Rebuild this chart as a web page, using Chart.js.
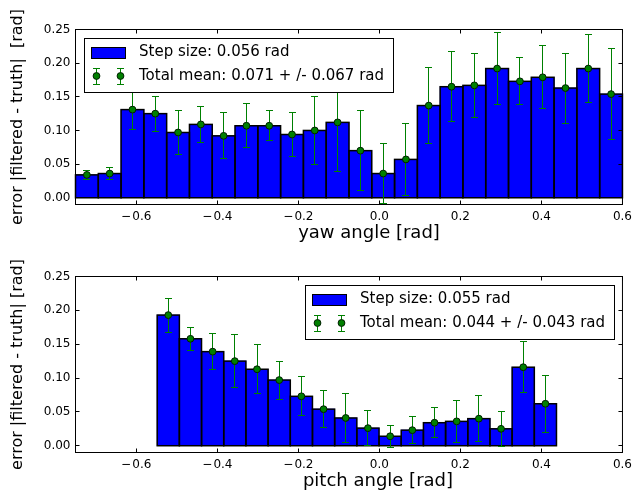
<!DOCTYPE html>
<html>
<head>
<meta charset="utf-8">
<script src="https://cdn.jsdelivr.net/npm/chart.js@4.4.1/dist/chart.umd.min.js"></script>
<style>
  html, body { margin: 0; padding: 0; background: #fff; }
  #wrap { position: relative; width: 637px; height: 496px; }
  .panel { position: absolute; left: 0; width: 637px; height: 248px; }
</style>
</head>
<body>
<div id="wrap">
  <div class="panel" style="top:0"><canvas id="yawChart" width="637" height="248"></canvas></div>
  <div class="panel" style="top:248px"><canvas id="pitchChart" width="637" height="248"></canvas></div>
</div>
<script>
const xTicks = [-0.6, -0.4, -0.2, 0.0, 0.2, 0.4, 0.6];
const yTicks = [0.00, 0.05, 0.10, 0.15, 0.20, 0.25];

// yaw histogram (bin centres, mean error, std)
const yawBins = [-0.7219, -0.6656, -0.6094, -0.5531, -0.4969, -0.4406, -0.3844, -0.3281,
  -0.2719, -0.2156, -0.1594, -0.1031, -0.0469, 0.0094, 0.0656, 0.1219,
  0.1781, 0.2344, 0.2906, 0.3469, 0.4031, 0.4594, 0.5156, 0.5719];
const yawMean = [0.034, 0.036, 0.131, 0.125, 0.097, 0.109, 0.092, 0.107,
  0.107, 0.094, 0.100, 0.112, 0.070, 0.036, 0.057, 0.137,
  0.165, 0.167, 0.192, 0.173, 0.179, 0.163, 0.192, 0.154];
const yawStd = [0.0065, 0.0085, 0.030, 0.026, 0.032, 0.027, 0.034, 0.033,
  0.022, 0.032, 0.050, 0.073, 0.059, 0.044, 0.053, 0.057,
  0.052, 0.047, 0.054, 0.035, 0.047, 0.052, 0.050, 0.068];
const yawLegend = ['Step size: 0.056 rad', 'Total mean: 0.071 + /- 0.067 rad'];

// pitch histogram
const pitchBins = [-0.5210, -0.4663, -0.4115, -0.3568, -0.3020, -0.2472, -0.1925, -0.1377,
  -0.0830, -0.0282, 0.0266, 0.0813, 0.1361, 0.1908, 0.2456, 0.3003, 0.3551, 0.4098];
const pitchMean = [0.193, 0.158, 0.139, 0.125, 0.113, 0.097, 0.073, 0.054,
  0.041, 0.026, 0.014, 0.023, 0.034, 0.036, 0.040, 0.025, 0.116, 0.062];
const pitchStd = [0.025, 0.017, 0.027, 0.039, 0.036, 0.028, 0.029, 0.027,
  0.036, 0.026, 0.016, 0.020, 0.022, 0.031, 0.034, 0.026, 0.038, 0.042];
const pitchLegend = ['Step size: 0.055 rad', 'Total mean: 0.044 + /- 0.043 rad'];

const FONT = "'DejaVu Sans', sans-serif";
Chart.defaults.font.family = FONT;
Chart.defaults.color = '#000';

const fmtX = v => (v < 0 ? '\u2212\u200A' + Math.abs(v).toFixed(1) : v.toFixed(1));
const snap = v => Math.round(v - 0.5) + 0.5;

// bar outlines, error bars, frame, inward ticks, legend box and x label
const decor = {
  id: 'decor',
  afterDatasetDraw(chart, args) {
    const ds = chart.data.datasets[args.index];
    if (!ds.outline) return;
    const ctx = chart.ctx;
    ctx.save();
    ctx.strokeStyle = '#000';
    ctx.lineWidth = 1.5;
    args.meta.data.forEach(el => {
      ctx.strokeRect(el.x - el.width / 2, el.y, el.width, el.base - el.y);
    });
    ctx.restore();
  },
  beforeDatasetDraw(chart, args) {
    const ds = chart.data.datasets[args.index];
    if (!ds.errors) return;
    const {ctx, chartArea: a, scales: {x, y}} = chart;
    ctx.save();
    ctx.beginPath();
    ctx.rect(a.left, a.top, a.right - a.left, a.bottom - a.top);
    ctx.clip();
    ctx.strokeStyle = '#008000';
    ctx.lineWidth = 1;
    ds.data.forEach((p, i) => {
      const px = snap(x.getPixelForValue(p.x));
      const hi = y.getPixelForValue(p.y + ds.errors[i]);
      const lo = y.getPixelForValue(p.y - ds.errors[i]);
      ctx.beginPath();
      ctx.moveTo(px, hi); ctx.lineTo(px, lo);
      ctx.moveTo(px - 3.5, snap(hi)); ctx.lineTo(px + 3.5, snap(hi));
      ctx.moveTo(px - 3.5, snap(lo)); ctx.lineTo(px + 3.5, snap(lo));
      ctx.stroke();
    });
    ctx.restore();
  },
  afterDraw(chart, args, opts) {
    const {ctx, chartArea: a, scales: {x, y}} = chart;
    ctx.save();
    // frame
    ctx.strokeStyle = '#000';
    ctx.lineWidth = 1;
    ctx.strokeRect(a.left, a.top, a.right - a.left, a.bottom - a.top);
    // ticks pointing inwards on all four sides
    ctx.beginPath();
    xTicks.forEach(v => {
      const px = Math.floor(x.getPixelForValue(v)) + 0.5;
      ctx.moveTo(px, a.bottom); ctx.lineTo(px, a.bottom - 4);
      ctx.moveTo(px, a.top); ctx.lineTo(px, a.top + 4);
    });
    yTicks.forEach(v => {
      const py = Math.floor(y.getPixelForValue(v)) + 0.5;
      ctx.moveTo(a.left, py); ctx.lineTo(a.left + 4, py);
      ctx.moveTo(a.right, py); ctx.lineTo(a.right - 4, py);
    });
    ctx.stroke();

    // x label
    ctx.fillStyle = '#000';
    ctx.font = '18px ' + FONT;
    ctx.textAlign = 'center';
    ctx.textBaseline = 'middle';
    ctx.fillText(opts.xTitle, (a.left + a.right) / 2 + opts.xShift, a.bottom + 29);

    // legend
    ctx.font = '15px ' + FONT;
    ctx.textAlign = 'left';
    const tw = Math.max(...opts.legend.map(t => ctx.measureText(t).width));
    const bw = Math.round(tw + 64), bh = 54;
    const bx = opts.side === 'left' ? Math.round(a.left + 8) : Math.round(a.right - 8 - bw);
    const by = Math.round(a.top + 8);
    ctx.fillStyle = '#fff';
    ctx.fillRect(bx, by, bw, bh);
    ctx.strokeStyle = '#000';
    ctx.strokeRect(bx + 0.5, by + 0.5, bw, bh);
    ctx.fillStyle = '#0000ff';
    ctx.fillRect(bx + 7.5, by + 9.5, 34, 11);
    ctx.strokeRect(bx + 7.5, by + 9.5, 34, 11);
    [bx + 12.5, bx + 36.5].forEach(mx => {
      const my = by + 38;
      ctx.strokeStyle = '#008000';
      ctx.beginPath();
      ctx.moveTo(mx, my - 8); ctx.lineTo(mx, my + 8);
      ctx.moveTo(mx - 3.5, my - 7.5); ctx.lineTo(mx + 3.5, my - 7.5);
      ctx.moveTo(mx - 3.5, my + 8.5); ctx.lineTo(mx + 3.5, my + 8.5);
      ctx.stroke();
      ctx.beginPath();
      ctx.arc(mx, my, 3.4, 0, Math.PI * 2);
      ctx.fillStyle = '#008000';
      ctx.fill();
      ctx.strokeStyle = '#002000';
      ctx.stroke();
    });
    ctx.fillStyle = '#000';
    ctx.fillText(opts.legend[0], bx + 55, by + 14.5);
    ctx.fillText(opts.legend[1], bx + 55, by + 38);
    ctx.restore();
  }
};

function makePanel(id, bins, mean, std, legend, yTitle, xTitle, side, xShift, top) {
  return new Chart(document.getElementById(id), {
    type: 'bar',
    data: {
      datasets: [{
        type: 'bar',
        data: bins.map((b, i) => ({x: b, y: mean[i]})),
        outline: true,
        backgroundColor: '#0000ff',
        borderWidth: 0,
        barPercentage: 1,
        categoryPercentage: 1,
        order: 1
      }, {
        type: 'line',
        data: bins.map((b, i) => ({x: b, y: mean[i]})),
        errors: std,
        showLine: false,
        pointRadius: 3.4,
        pointBackgroundColor: '#008000',
        pointBorderColor: '#002000',
        pointBorderWidth: 1,
        order: 0
      }]
    },
    options: {
      responsive: false,
      animation: false,
      events: [],
      layout: {padding: {top: top, right: 12.5, bottom: 0, left: 0}},
      plugins: {
        legend: {display: false},
        tooltip: {enabled: false},
        decor: {legend: legend, side: side, xTitle: xTitle, xShift: xShift}
      },
      scales: {
        x: {
          type: 'linear', min: -0.75, max: 0.6, offset: false,
          grid: {display: false, drawTicks: false},
          border: {display: false},
          afterBuildTicks: s => { s.ticks = xTicks.map(v => ({value: v})); },
          afterFit: s => { s.height = 43.5; },
          ticks: {padding: 5, font: {size: 12}, maxRotation: 0, autoSkip: false, callback: v => fmtX(v)}
        },
        y: {
          min: -0.01, max: 0.25,
          grid: {display: false, drawTicks: false},
          border: {display: false},
          afterBuildTicks: s => { s.ticks = yTicks.map(v => ({value: v})); },
          afterFit: s => { s.width = 75.5; },
          ticks: {padding: 5, font: {size: 12}, callback: v => v.toFixed(2)},
          title: {display: true, text: yTitle, font: {size: 16}, padding: {top: 8, bottom: 0}}
        }
      }
    },
    plugins: [decor]
  });
}

makePanel('yawChart', yawBins, yawMean, yawStd, yawLegend,
  'error |filtered - truth|  [rad]', 'yaw angle [rad]', 'left', 20, 29.5);
makePanel('pitchChart', pitchBins, pitchMean, pitchStd, pitchLegend,
  'error |filtered - truth| [rad]', 'pitch angle [rad]', 'right', 29, 28.5);
</script>
</body>
</html>
